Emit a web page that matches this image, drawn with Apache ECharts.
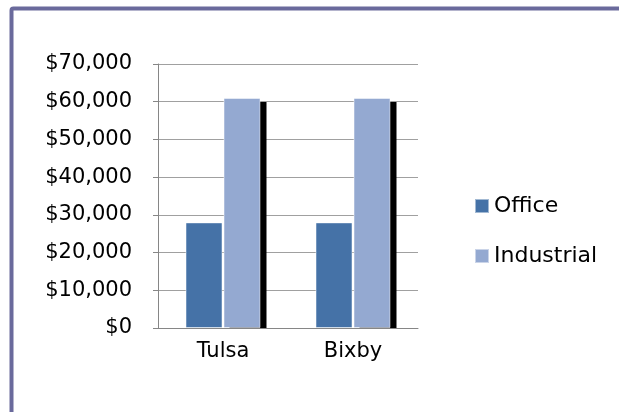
<!DOCTYPE html>
<html lang="en">
<head>
    <meta charset="UTF-8">
    <title>Office vs Industrial</title>
    <script src="https://cdn.jsdelivr.net/npm/echarts@6.0.0/dist/echarts.min.js"></script>
    <style>
      body { margin: 0; background: #fff; }
    </style>
</head>
<body>
    <div id="main" style="width: 619px; height: 412px"></div>
    <script type="text/javascript">
      const cities = ["Tulsa", "Bixby"];
      const office = [28000, 28000];
      const industrial = [61000, 61000];
      const yTicks = [0, 10000, 20000, 30000, 40000, 50000, 60000, 70000];

      let myChart = echarts.init(document.getElementById("main"));
      const font = "DejaVu Sans";
      const barW = 37;
      const gap = 1;

      // drop shadow behind the industrial bars, stopped at the axis
      function shadowItem(params, api) {
        const top = api.coord([api.value(0), api.value(1)]);
        const base = api.coord([api.value(0), 0]);
        const x = top[0] + gap / 2 + 6;
        return {
          type: "rect",
          shape: { x: x, y: top[1] + 4, width: barW, height: base[1] - top[1] - 4 },
          style: { fill: "#000" }
        };
      }

      let options = {
        backgroundColor: "#fff",
        animation: false,
        // purple frame around the chart
        graphic: [{
          type: "rect",
          shape: { x: 11.5, y: 8.5, width: 700, height: 500, r: 2 },
          style: { fill: "none", stroke: "#6a6a9c", lineWidth: 4 },
          z: 100
        }],
        legend: {
          orient: "vertical",
          left: 469,
          top: 189,
          itemWidth: 14,
          itemHeight: 14,
          itemGap: 26,
          icon: "rect",
          textStyle: { fontFamily: font, fontSize: 22, color: "#000", lineHeight: 24 },
          data: ["Office", "Industrial"]
        },
        grid: { left: 158, right: 201, top: 64, bottom: 84 },
        xAxis: {
          type: "category",
          data: cities,
          axisLine: { lineStyle: { color: "#868686", width: 1 } },
          axisTick: { length: 8, lineStyle: { color: "#868686" } },
          axisLabel: { fontFamily: font, fontSize: 21, color: "#000", margin: 13 }
        },
        yAxis: {
          type: "value",
          min: yTicks[0],
          max: yTicks[yTicks.length - 1],
          interval: 10000,
          axisLine: { show: true, lineStyle: { color: "#868686" } },
          axisTick: { show: true, length: 5, lineStyle: { color: "#868686" } },
          splitLine: { lineStyle: { color: "#a0a0a0" } },
          axisLabel: {
            fontFamily: font, fontSize: 21, color: "#000", margin: 26,
            formatter: (v) => "$" + v.toLocaleString("en-US")
          }
        },
        series: [
          {
            name: "shadow",
            type: "custom",
            renderItem: shadowItem,
            data: industrial.map((v, i) => [i, v]),
            z: 1,
            silent: true
          },
          {
            name: "Office",
            type: "bar",
            data: office,
            barWidth: barW,
            barGap: gap / barW * 100 + "%",
            z: 2,
            itemStyle: { color: "#4572a7", borderColor: "rgba(255,255,255,0.5)", borderWidth: 1 }
          },
          {
            name: "Industrial",
            type: "bar",
            data: industrial,
            barWidth: barW,
            z: 2,
            itemStyle: { color: "#94a9d1", borderColor: "rgba(255,255,255,0.5)", borderWidth: 1 }
          }
        ]
      };
      myChart.setOption(options);
    </script>
</body>
</html>
